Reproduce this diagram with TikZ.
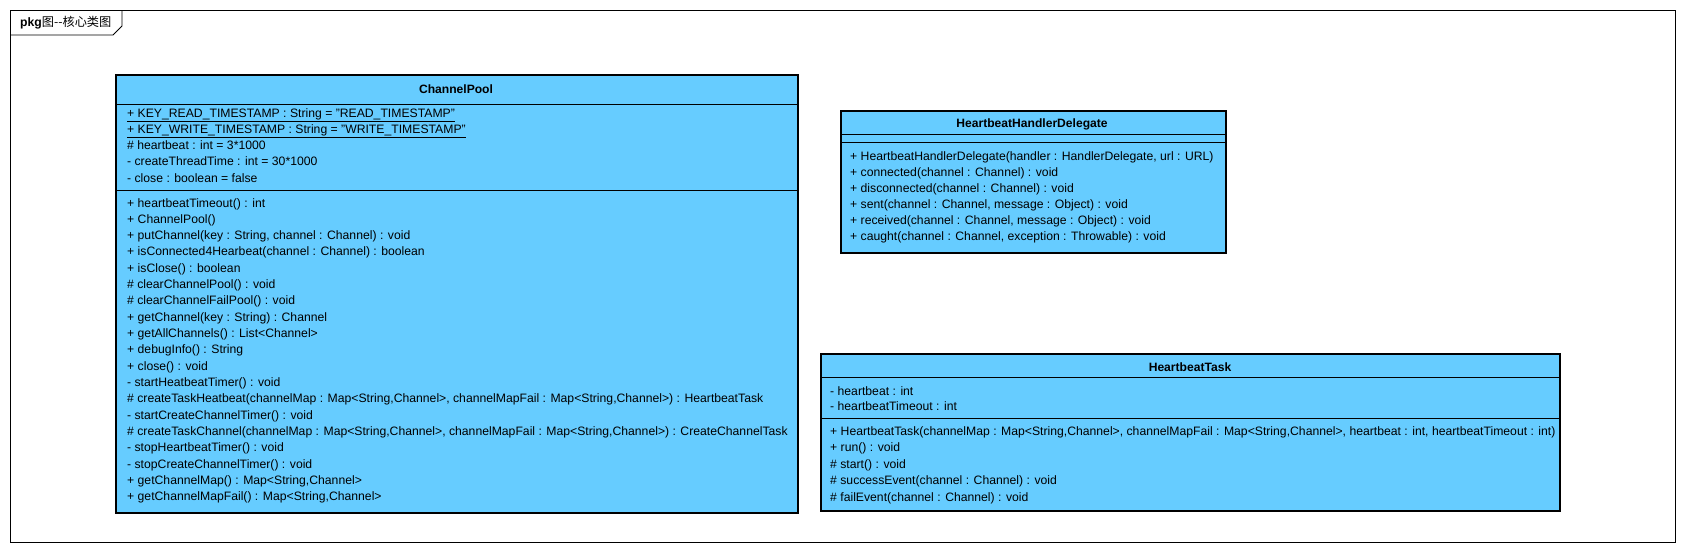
\documentclass[tikz,border=0pt]{standalone}
\usepackage{fontspec}
\setmainfont{Liberation Sans}
\newfontfamily\cjk{Noto Sans CJK SC}
\definecolor{umlblue}{RGB}{102,204,255}
\begin{document}
\begin{tikzpicture}[x=1pt,y=-1pt,
    classbox/.style={draw=black,line width=2pt,fill=umlblue,anchor=north west,inner sep=0pt},
    member/.style={anchor=west,inner sep=0pt,font=\fontsize{12.2}{14}\selectfont,text height=8.5pt,text depth=2.5pt},
    classname/.style={inner sep=0pt,font=\bfseries\fontsize{12.1}{14}\selectfont}]
    \useasboundingbox (0,0) rectangle (1686,552);

    % package frame
    \draw[line width=0.8pt] (10,10) rectangle (1675,542);
    \draw[line width=0.8pt] (10,35) -- (113,35) -- (122,26) -- (122,10);
    \node[member] (pkg) at (20,23) {\textbf{pkg}{\cjk 图-{}-核心类图}};

    % ChannelPool
    \node[classbox,minimum width=682pt,minimum height=438pt] (pool) at (115,74) {};
    \node[classname] (poolname) at (456,89) {ChannelPool};
    \draw[line width=0.8pt] (115,104) -- (797,104);
    \draw[line width=0.8pt] (115,190) -- (797,190);
    \foreach \t [count=\i] in {
        {\underline{+ KEY\_READ\_TIMESTAMP : String = "READ\_TIMESTAMP"}},
        {\underline{+ KEY\_WRITE\_TIMESTAMP : String = "WRITE\_TIMESTAMP"}},
        {\# heartbeat : int = 3*1000},
        {- createThreadTime : int = 30*1000},
        {- close : boolean = false}}
        \node[member] (poolattr\i) at (127,{114+(\i-1)*16.3}) {\t};
    \foreach \t [count=\i] in {
        {+ heartbeatTimeout() : int},
        {+ ChannelPool()},
        {+ putChannel(key : String, channel : Channel) : void},
        {+ isConnected4Hearbeat(channel : Channel) : boolean},
        {+ isClose() : boolean},
        {\# clearChannelPool() : void},
        {\# clearChannelFailPool() : void},
        {+ getChannel(key : String) : Channel},
        {+ getAllChannels() : List<Channel>},
        {+ debugInfo() : String},
        {+ close() : void},
        {- startHeatbeatTimer() : void},
        {\# createTaskHeatbeat(channelMap : Map<String,Channel>, channelMapFail : Map<String,Channel>) : HeartbeatTask},
        {- startCreateChannelTimer() : void},
        {\# createTaskChannel(channelMap : Map<String,Channel>, channelMapFail : Map<String,Channel>) : CreateChannelTask},
        {- stopHeartbeatTimer() : void},
        {- stopCreateChannelTimer() : void},
        {+ getChannelMap() : Map<String,Channel>},
        {+ getChannelMapFail() : Map<String,Channel>}}
        \node[member] (poolop\i) at (127,{204+(\i-1)*16.33}) {\t};

    % HeartbeatHandlerDelegate
    \node[classbox,minimum width=385pt,minimum height=142pt] (delegate) at (840,110) {};
    \node[classname] (delegatename) at (1032,124) {HeartbeatHandlerDelegate};
    \draw[line width=0.8pt] (840,134) -- (1225,134);
    \draw[line width=0.8pt] (840,142) -- (1225,142);
    \foreach \t [count=\i] in {
        {+ HeartbeatHandlerDelegate(handler : HandlerDelegate, url : URL)},
        {+ connected(channel : Channel) : void},
        {+ disconnected(channel : Channel) : void},
        {+ sent(channel : Channel, message : Object) : void},
        {+ received(channel : Channel, message : Object) : void},
        {+ caught(channel : Channel, exception : Throwable) : void}}
        \node[member] (delegateop\i) at (850,{157+(\i-1)*16}) {\t};

    % HeartbeatTask
    \node[classbox,minimum width=739pt,minimum height=157pt] (task) at (820,353) {};
    \node[classname] (taskname) at (1190,367) {HeartbeatTask};
    \draw[line width=0.8pt] (820,377) -- (1559,377);
    \draw[line width=0.8pt] (820,418) -- (1559,418);
    \foreach \t [count=\i] in {
        {- heartbeat : int},
        {- heartbeatTimeout : int}}
        \node[member] (taskattr\i) at (830,{392+(\i-1)*15.7}) {\t};
    \foreach \t [count=\i] in {
        {+ HeartbeatTask(channelMap : Map<String,Channel>, channelMapFail : Map<String,Channel>, heartbeat : int, heartbeatTimeout : int)},
        {+ run() : void},
        {\# start() : void},
        {\# successEvent(channel : Channel) : void},
        {\# failEvent(channel : Channel) : void}}
        \node[member] (taskop\i) at (830,{432+(\i-1)*16.5}) {\t};
\end{tikzpicture}
\end{document}
